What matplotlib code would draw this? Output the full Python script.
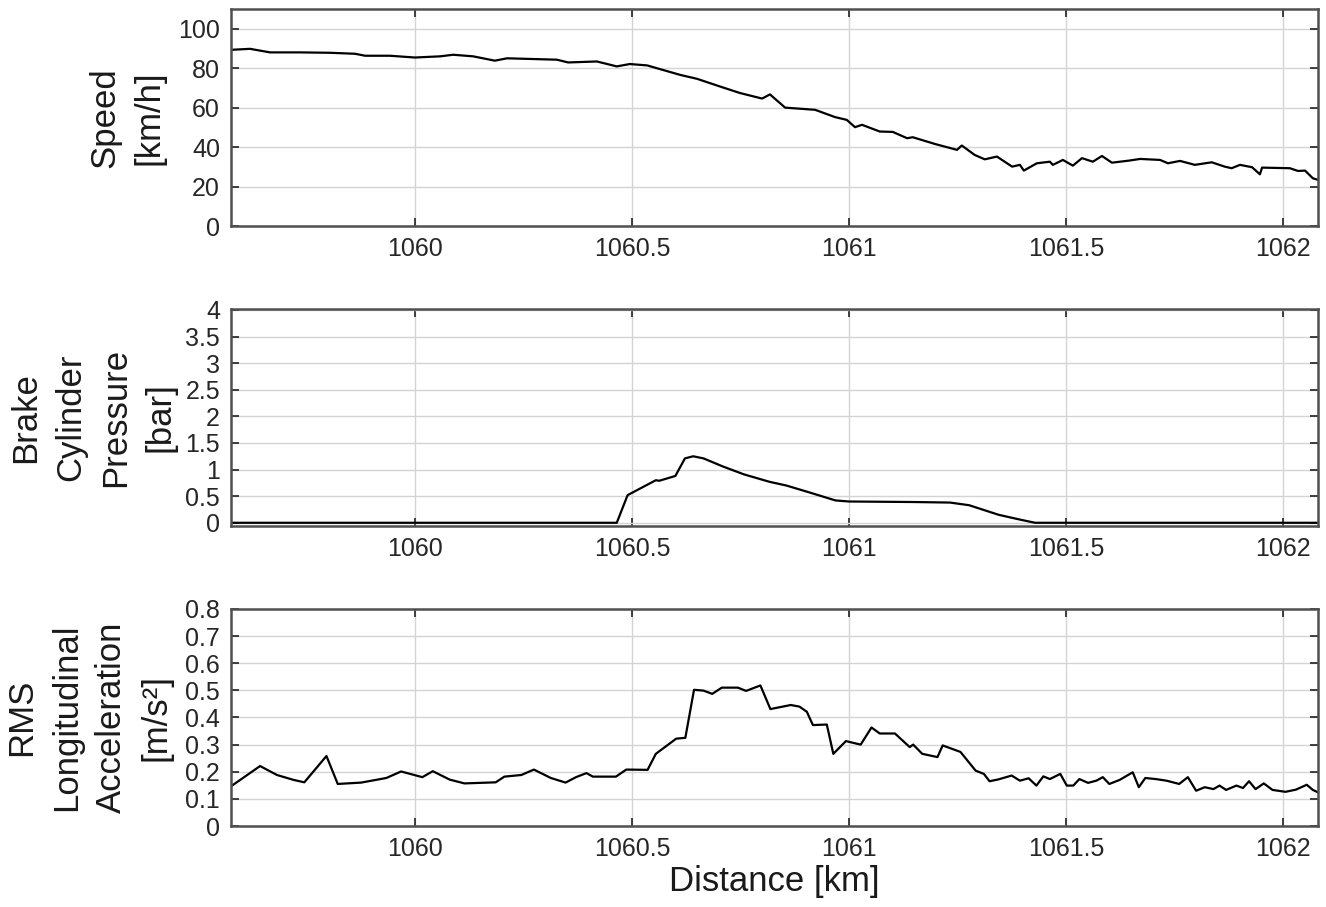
import matplotlib
matplotlib.use('Agg')
import matplotlib.pyplot as plt

plt.rcParams['font.family'] = ['Liberation Sans', 'DejaVu Sans']

# speed [km/h] vs distance [km]
speed_km = [1059.576, 1059.620, 1059.666, 1059.735, 1059.804, 1059.862, 1059.885,
            1059.942, 1060.000, 1060.058, 1060.088, 1060.134, 1060.184, 1060.212,
            1060.327, 1060.353, 1060.419, 1060.465, 1060.495, 1060.535, 1060.611,
            1060.650, 1060.703, 1060.749, 1060.800, 1060.818, 1060.853, 1060.922,
            1060.968, 1060.995, 1061.014, 1061.030, 1061.071, 1061.101, 1061.134,
            1061.147, 1061.198, 1061.249, 1061.260, 1061.290, 1061.313, 1061.341,
            1061.376, 1061.394, 1061.403, 1061.433, 1061.463, 1061.470, 1061.493,
            1061.516, 1061.537, 1061.562, 1061.583, 1061.606, 1061.647, 1061.671,
            1061.717, 1061.735, 1061.763, 1061.797, 1061.836, 1061.866, 1061.882,
            1061.901, 1061.929, 1061.947, 1061.952, 1062.016, 1062.035, 1062.051,
            1062.069, 1062.081]
speed = [89.3, 89.8, 88.0, 88.0, 87.8, 87.3, 86.3,
         86.3, 85.4, 86.0, 86.8, 86.0, 83.8, 85.0,
         84.3, 82.9, 83.4, 80.9, 82.1, 81.4, 76.6,
         74.6, 70.7, 67.4, 64.6, 66.7, 60.0, 58.9,
         55.2, 53.8, 50.1, 51.3, 47.9, 47.7, 44.5,
         45.0, 41.6, 38.6, 40.8, 36.0, 33.8, 35.2,
         30.1, 31.0, 28.1, 31.8, 32.6, 31.0, 33.5,
         30.6, 34.4, 32.6, 35.5, 32.1, 33.2, 34.0,
         33.5, 31.8, 33.0, 31.0, 32.3, 30.1, 29.3,
         31.0, 29.8, 26.2, 29.6, 29.3, 27.9, 28.1,
         24.2, 23.4]

# brake cylinder pressure [bar]
brake_km = [1059.573, 1060.465, 1060.490, 1060.555, 1060.563, 1060.600, 1060.622,
            1060.641, 1060.665, 1060.709, 1060.758, 1060.817, 1060.856, 1060.905,
            1060.969, 1061.000, 1061.150, 1061.233, 1061.277, 1061.345, 1061.394,
            1061.429, 1062.081]
brake = [0.0, 0.0, 0.52, 0.80, 0.79, 0.88, 1.21,
         1.25, 1.21, 1.06, 0.91, 0.77, 0.70, 0.58,
         0.42, 0.40, 0.39, 0.38, 0.33, 0.15, 0.06,
         0.0, 0.0]

# RMS longitudinal acceleration [m/s^2]
acc_km = [1059.573, 1059.643, 1059.682, 1059.720, 1059.745, 1059.796, 1059.822,
          1059.876, 1059.934, 1059.968, 1060.017, 1060.041, 1060.080, 1060.114,
          1060.186, 1060.206, 1060.245, 1060.274, 1060.313, 1060.347, 1060.371,
          1060.395, 1060.410, 1060.463, 1060.487, 1060.536, 1060.555, 1060.602,
          1060.623, 1060.643, 1060.665, 1060.685, 1060.707, 1060.744, 1060.763,
          1060.796, 1060.819, 1060.866, 1060.886, 1060.903, 1060.917, 1060.949,
          1060.964, 1060.993, 1061.027, 1061.052, 1061.071, 1061.106, 1061.140,
          1061.148, 1061.169, 1061.204, 1061.216, 1061.257, 1061.292, 1061.311,
          1061.324, 1061.345, 1061.375, 1061.394, 1061.414, 1061.432, 1061.448,
          1061.463, 1061.487, 1061.502, 1061.517, 1061.531, 1061.551, 1061.570,
          1061.585, 1061.600, 1061.624, 1061.654, 1061.668, 1061.683, 1061.707,
          1061.732, 1061.761, 1061.781, 1061.800, 1061.820, 1061.840, 1061.854,
          1061.869, 1061.893, 1061.908, 1061.922, 1061.937, 1061.956, 1061.976,
          1062.006, 1062.030, 1062.055, 1062.069, 1062.081]
acc = [0.143, 0.221, 0.188, 0.170, 0.161, 0.258, 0.155,
       0.160, 0.177, 0.201, 0.180, 0.202, 0.171, 0.157,
       0.161, 0.182, 0.188, 0.208, 0.177, 0.160, 0.180,
       0.195, 0.182, 0.182, 0.208, 0.207, 0.266, 0.322,
       0.325, 0.502, 0.499, 0.487, 0.510, 0.510, 0.498,
       0.518, 0.431, 0.446, 0.440, 0.421, 0.372, 0.374,
       0.266, 0.313, 0.300, 0.363, 0.341, 0.341, 0.291,
       0.300, 0.266, 0.254, 0.297, 0.273, 0.204, 0.192,
       0.165, 0.172, 0.186, 0.167, 0.176, 0.149, 0.183,
       0.173, 0.192, 0.149, 0.149, 0.173, 0.159, 0.167,
       0.180, 0.155, 0.170, 0.198, 0.143, 0.177, 0.173,
       0.167, 0.155, 0.180, 0.130, 0.143, 0.136, 0.149,
       0.133, 0.149, 0.140, 0.165, 0.136, 0.157, 0.133,
       0.126, 0.134, 0.152, 0.133, 0.124]

x_ticks = [1060, 1060.5, 1061, 1061.5, 1062]
x_labels = ['1060', '1060.5', '1061', '1061.5', '1062']
speed_ticks = [0, 20, 40, 60, 80, 100]
brake_ticks = [0, 0.5, 1, 1.5, 2, 2.5, 3, 3.5, 4]
acc_ticks = [0, 0.1, 0.2, 0.3, 0.4, 0.5, 0.6, 0.7, 0.8]

fig = plt.figure(figsize=(13.26, 9.07), dpi=100)

left, width, height = 0.1742, 0.8198, 0.2393
panels = [
    (0.7508, speed_km, speed, (0, 110), speed_ticks, 'Speed\n[km/h]', -0.060),
    (0.4201, brake_km, brake, (-0.06, 4.02), brake_ticks,
     'Brake\nCylinder\nPressure\n[bar]', -0.050),
    (0.0893, acc_km, acc, (0, 0.8), acc_ticks,
     'RMS\nLongitudinal\nAcceleration\n[m/s²]', -0.054),
]

for bottom, xs, ys, ylim, yticks, ylabel, lab_x in panels:
    ax = fig.add_axes([left, bottom, width, height])
    ax.plot(xs, ys, color='black', linewidth=1.6)
    ax.set_xlim(1059.576, 1062.081)
    ax.set_ylim(*ylim)
    ax.set_xticks(x_ticks)
    ax.set_xticklabels(x_labels)
    ax.set_yticks(yticks)
    ax.set_yticklabels(['%g' % t for t in yticks])
    ax.grid(True, color='#d4d4d4', linewidth=1.0)
    ax.set_axisbelow(True)
    for sp in ax.spines.values():
        sp.set_color('#505050')
        sp.set_linewidth(1.8)
    ax.tick_params(direction='in', length=6, width=1.3, color='#303030',
                   top=True, right=True, labelsize=18, labelcolor='#262626', pad=8)
    ax.set_ylabel(ylabel, fontsize=25, linespacing=1.45, color='#1a1a1a')
    ax.yaxis.set_label_coords(lab_x, 0.5)

ax.set_xlabel('Distance [km]', fontsize=25, color='#1a1a1a', labelpad=3)

fig.savefig('out.png', dpi=100)
